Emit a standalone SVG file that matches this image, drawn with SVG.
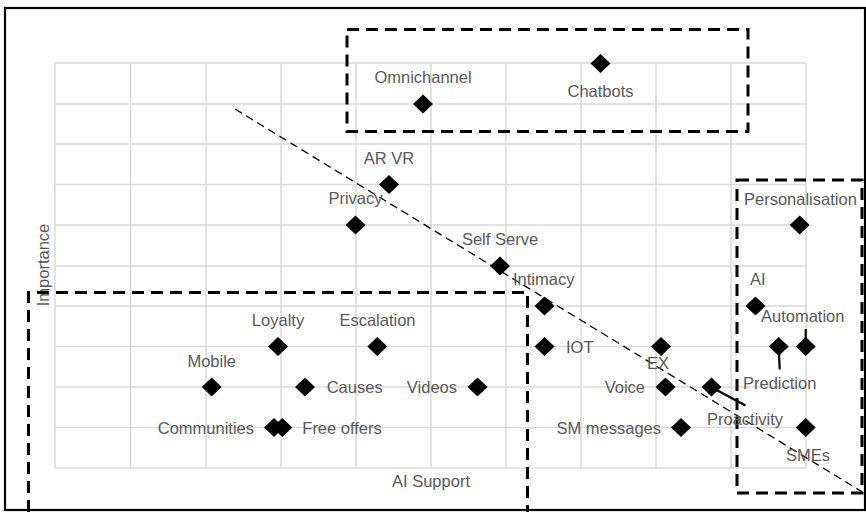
<svg xmlns="http://www.w3.org/2000/svg" width="866" height="512" viewBox="0 0 866 512">
<style>
.grid line{stroke:#d9d9d9;stroke-width:1.5}
.lbl{font-family:"Liberation Sans",Arial,sans-serif;font-size:16.5px;fill:#595959}
.box{fill:none;stroke:#000;stroke-width:3;stroke-dasharray:12 7}
.lead{stroke:#000;stroke-width:2.2;fill:none}
</style>
<defs>
<path id="dm" d="M0,-9.5 L10,0 L0,9.5 L-10,0 Z" fill="#000"/>
</defs>
<rect width="866" height="512" fill="#fff"/>
<rect x="5" y="8" width="860" height="502" fill="none" stroke="#000" stroke-width="2.2"/>
<g class="grid">
<line x1="55" y1="63" x2="55" y2="468"/><line x1="130.5" y1="63" x2="130.5" y2="468"/><line x1="206" y1="63" x2="206" y2="468"/><line x1="281" y1="63" x2="281" y2="468"/><line x1="356" y1="63" x2="356" y2="468"/><line x1="431" y1="63" x2="431" y2="468"/><line x1="506" y1="63" x2="506" y2="468"/><line x1="581" y1="63" x2="581" y2="468"/><line x1="656" y1="63" x2="656" y2="468"/><line x1="731" y1="63" x2="731" y2="468"/><line x1="806" y1="63" x2="806" y2="468"/>
<line x1="55" y1="63" x2="806" y2="63"/><line x1="55" y1="104" x2="806" y2="104"/><line x1="55" y1="144" x2="806" y2="144"/><line x1="55" y1="184.5" x2="806" y2="184.5"/><line x1="55" y1="225" x2="806" y2="225"/><line x1="55" y1="266" x2="806" y2="266"/><line x1="55" y1="306" x2="806" y2="306"/><line x1="55" y1="346.5" x2="806" y2="346.5"/><line x1="55" y1="387" x2="806" y2="387"/><line x1="55" y1="427.5" x2="806" y2="427.5"/><line x1="55" y1="468" x2="806" y2="468"/>
</g>
<g id="axes">
<text class="lbl" x="431" y="487" text-anchor="middle">AI Support</text>
<text class="lbl" transform="translate(48.5,265) rotate(-90)" text-anchor="middle">Importance</text>
</g>
<g id="connectors">
<line x1="235" y1="109" x2="864" y2="493" stroke="#000" stroke-width="1.3" stroke-dasharray="8 5"/>
<line class="lead" x1="805.7" y1="329" x2="805.7" y2="346"/>
<line class="lead" x1="778.7" y1="346" x2="779.7" y2="369.5"/>
<line class="lead" x1="711" y1="387" x2="745.5" y2="405.5" stroke-width="2.6"/>
</g>
<g id="zones">
<rect class="box" x="347" y="29.5" width="401" height="102"/>
<rect class="box" x="737" y="180" width="125" height="313"/>
<path class="box" d="M28.5,512 V292.5 H527.5 V512"/>
</g>
<g id="omnichannel"><use href="#dm" x="423" y="104"/><text class="lbl" x="423" y="83" text-anchor="middle">Omnichannel</text></g>
<g id="chatbots"><use href="#dm" x="600.5" y="63.5"/><text class="lbl" x="600.5" y="96.5" text-anchor="middle">Chatbots</text></g>
<g id="arvr"><use href="#dm" x="389" y="184.5"/><text class="lbl" x="389" y="164" text-anchor="middle">AR VR</text></g>
<g id="privacy"><use href="#dm" x="355.5" y="225"/><text class="lbl" x="355.5" y="204" text-anchor="middle">Privacy</text></g>
<g id="selfserve"><use href="#dm" x="500" y="266"/><text class="lbl" x="500" y="245" text-anchor="middle">Self Serve</text></g>
<g id="intimacy"><use href="#dm" x="544.5" y="306"/><text class="lbl" x="513" y="285">Intimacy</text></g>
<g id="iot"><use href="#dm" x="544.5" y="346.5"/><text class="lbl" x="566" y="352.5">IOT</text></g>
<g id="ex"><use href="#dm" x="661" y="346.5"/><text class="lbl" x="658" y="369" text-anchor="middle">EX</text></g>
<g id="voice"><use href="#dm" x="665.5" y="387"/><text class="lbl" x="645" y="393" text-anchor="end">Voice</text></g>
<g id="proactivity"><use href="#dm" x="711.5" y="387"/><text class="lbl" x="707" y="425">Proactivity</text></g>
<g id="smmessages"><use href="#dm" x="681" y="427.5"/><text class="lbl" x="661" y="433.5" text-anchor="end">SM messages</text></g>
<g id="videos"><use href="#dm" x="477.5" y="387"/><text class="lbl" x="457" y="393" text-anchor="end">Videos</text></g>
<g id="ai"><use href="#dm" x="755.5" y="306"/><text class="lbl" x="750" y="285">AI</text></g>
<g id="automation"><use href="#dm" x="805.7" y="346.5"/><text class="lbl" x="761" y="322">Automation</text></g>
<g id="prediction"><use href="#dm" x="778.7" y="346.5"/><text class="lbl" x="743" y="388.5">Prediction</text></g>
<g id="smes"><use href="#dm" x="805.7" y="427.5"/><text class="lbl" x="786" y="461">SMEs</text></g>
<g id="personalisation"><use href="#dm" x="799.7" y="225"/><text class="lbl" x="744" y="205">Personalisation</text></g>
<g id="loyalty"><use href="#dm" x="278" y="346.5"/><text class="lbl" x="278" y="326" text-anchor="middle">Loyalty</text></g>
<g id="escalation"><use href="#dm" x="377.3" y="346.5"/><text class="lbl" x="377.5" y="326" text-anchor="middle">Escalation</text></g>
<g id="mobile"><use href="#dm" x="211.7" y="387"/><text class="lbl" x="211.7" y="367" text-anchor="middle">Mobile</text></g>
<g id="causes"><use href="#dm" x="305" y="387"/><text class="lbl" x="326.7" y="393">Causes</text></g>
<g id="communities"><use href="#dm" x="274" y="427.5"/><text class="lbl" x="254" y="433.5" text-anchor="end">Communities</text></g>
<g id="freeoffers"><use href="#dm" x="282.3" y="427.5"/><text class="lbl" x="302.3" y="433.5">Free offers</text></g>
</svg>
